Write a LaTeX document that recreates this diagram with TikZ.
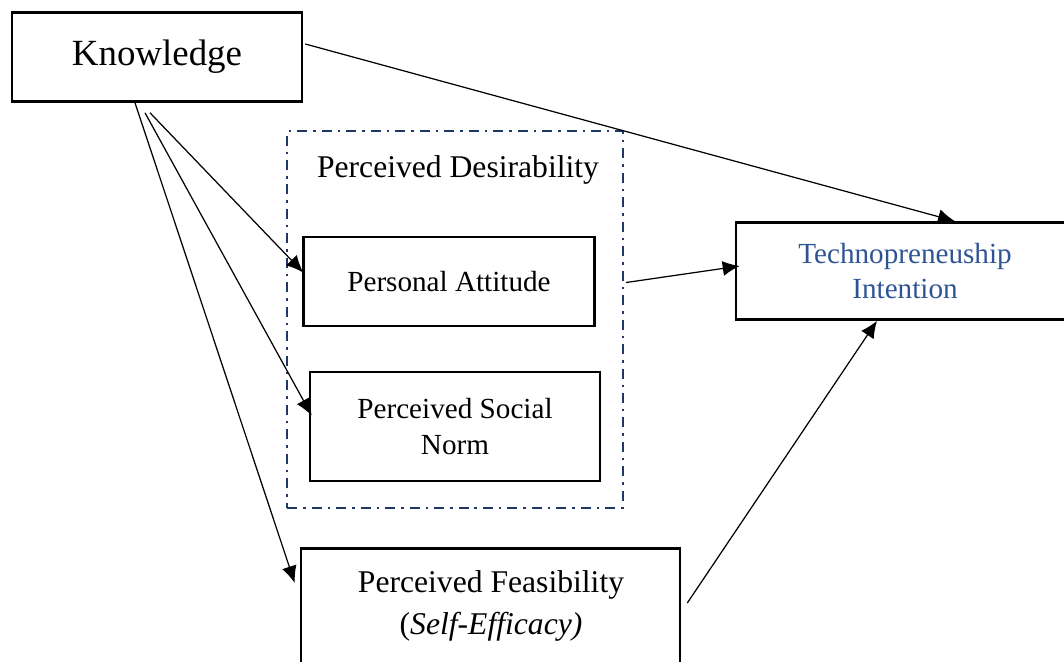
\documentclass[tikz,border=0pt]{standalone}
\usepackage{fontspec}
\setmainfont{Liberation Serif}
\usetikzlibrary{arrows.meta,calc,positioning}

\definecolor{navy}{RGB}{31,56,100}
\definecolor{techblue}{RGB}{47,84,150}

\tikzset{
  var/.style={draw, line width=1.5pt, align=center, inner sep=0pt,
    font=\fontsize{16.6}{20}\selectfont},
  grp/.style={draw=navy, line width=1.4pt,
    dash pattern=on 0.2cm off 0.12cm on 0.05cm off 0.12cm},
  link/.style={-{Latex[length=0.34cm,width=0.3cm]}, line width=0.7pt},
}

\begin{document}
\begin{tikzpicture}[x=0.02cm, y=-0.02cm]
    \useasboundingbox (0,0) rectangle (1064,662);
    \clip (0,0) rectangle (1064,662);

    \node[var, minimum width=5.8cm, minimum height=1.78cm,
      font=\fontsize{21}{25}\selectfont]                  (know) at (157,57) {Knowledge};

    \node[grp, minimum width=6.72cm, minimum height=7.54cm] (desir) at (455,319.5) {};
    \node[font=\fontsize{18}{22}\selectfont]               (desirlbl) at (458,170) {Perceived Desirability};
    \node[var, minimum width=5.82cm, minimum height=1.78cm] (att) at (449,281.5) {Personal Attitude};
    \node[var, minimum width=5.8cm, minimum height=2.18cm]  (norm) at (455,426.5) {Perceived Social\\Norm};

    \node[var, minimum width=6.76cm, minimum height=1.94cm,
      text=techblue]                                       (tech) at (905,271) {Technopreneuship\\Intention};

    \node[var, minimum width=7.58cm, minimum height=3cm, anchor=north] (feas) at (490.5,547) {};
    \node[font=\fontsize{18}{24}\selectfont, align=center] (feastxt) at (491,606)
      {Perceived Feasibility\\(\textit{Self-Efficacy)}};

    \draw[link] ($(know.east)+(2,-13)$) -- ($(tech.north)+(50,0)$); %
    \draw[link] ($(know.south)+(-7,10)$) -- ($(att.west)+(1,-9)$); %
    \draw[link] ($(know.south)+(-12,10)$) -- ($(norm.west)+(3,-11)$); %
    \draw[link] ($(know.south)+(-22,0)$) -- ($(feas.north west)+(-5,36)$); %
    \draw[link] ($(desir.east)+(2,-37)$) -- ($(tech.west)+(5,-5)$); %
    \draw[link] ($(feas.north east)+(6,56)$) -- ($(tech.south)+(-28,0)$); %

\end{tikzpicture}
\end{document}
